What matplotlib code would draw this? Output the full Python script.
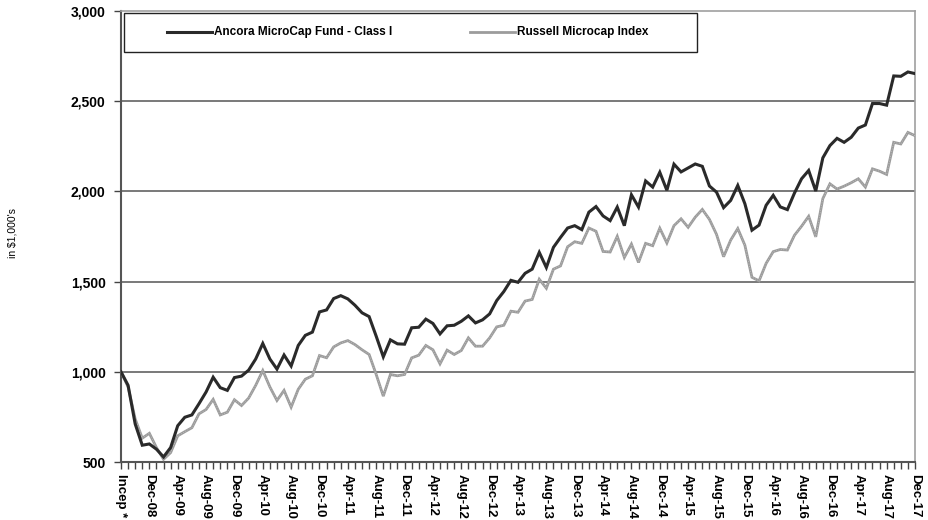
import matplotlib
matplotlib.use("Agg")
import matplotlib.pyplot as plt
from matplotlib.lines import Line2D
from matplotlib.patches import Rectangle
from matplotlib.ticker import FuncFormatter, MultipleLocator

plt.rcParams['font.family'] = ['Liberation Sans', 'DejaVu Sans']

fund_name = "Ancora MicroCap Fund - Class I"
index_name = "Russell Microcap Index"

fund = [1000, 925, 711, 593, 600, 571, 528, 580, 701, 748,
        761, 823, 888, 970, 912, 897, 968, 976, 1009, 1071,
        1157, 1071, 1015, 1093, 1032, 1146, 1202, 1220, 1332, 1343,
        1406, 1422, 1404, 1369, 1327, 1306, 1197, 1083, 1177, 1155,
        1153, 1244, 1247, 1292, 1268, 1210, 1255, 1258, 1280, 1310,
        1271, 1288, 1321, 1395, 1445, 1507, 1496, 1546, 1569, 1662,
        1578, 1690, 1745, 1797, 1810, 1788, 1885, 1916, 1864, 1838,
        1913, 1810, 1981, 1913, 2058, 2024, 2106, 2006, 2151, 2108,
        2130, 2152, 2139, 2030, 1996, 1910, 1950, 2033, 1932, 1785,
        1813, 1923, 1978, 1914, 1899, 1991, 2070, 2116, 2002, 2186,
        2254, 2294, 2272, 2300, 2351, 2368, 2487, 2487, 2478, 2640,
        2638, 2662, 2653]

russell = [1000, 916, 739, 632, 659, 580, 515, 552, 645, 668,
           690, 767, 791, 847, 761, 776, 845, 813, 854, 925,
           1007, 916, 841, 897, 804, 903, 959, 978, 1090, 1078,
           1138, 1160, 1173, 1151, 1122, 1096, 985, 865, 985, 978,
           985, 1077, 1092, 1146, 1122, 1044, 1120, 1096, 1118, 1188,
           1142, 1142, 1188, 1249, 1258, 1336, 1330, 1392, 1401, 1513,
           1463, 1569, 1587, 1693, 1721, 1712, 1797, 1779, 1667, 1664,
           1751, 1634, 1708, 1606, 1712, 1699, 1796, 1714, 1810, 1848,
           1801, 1857, 1900, 1845, 1762, 1638, 1730, 1794, 1702, 1524,
           1504, 1601, 1666, 1678, 1675, 1757, 1807, 1862, 1748, 1960,
           2042, 2013, 2029, 2048, 2070, 2024, 2125, 2112, 2094, 2272,
           2263, 2327, 2309]

tick_labels = ["Incep *", "Dec-08", "Apr-09", "Aug-09", "Dec-09", "Apr-10", "Aug-10",
               "Dec-10", "Apr-11", "Aug-11", "Dec-11", "Apr-12", "Aug-12", "Dec-12",
               "Apr-13", "Aug-13", "Dec-13", "Apr-14", "Aug-14", "Dec-14", "Apr-15",
               "Aug-15", "Dec-15", "Apr-16", "Aug-16", "Dec-16", "Apr-17", "Aug-17",
               "Dec-17"]
label_step = 4
y_ticks = [500, 1000, 1500, 2000, 2500, 3000]

W, H = 929, 520
fig = plt.figure(figsize=(W / 100, H / 100), dpi=100)
ax = fig.add_axes([121 / W, 1 - 462 / H, (915 - 121) / W, (462 - 11) / H])

x = list(range(len(fund)))
fund_color = '#2a2a2a'
idx_color = '#9c9c9c'
ax.plot(x, russell, color=idx_color, lw=2.0, zorder=3, solid_joinstyle='miter')
ax.plot(x, russell, color='#c4c4c4', lw=0.6, ls=(0, (1, 2)), zorder=3)
ax.plot(x, fund, color=fund_color, lw=2.2, zorder=4, solid_joinstyle='miter')

ax.set_xlim(0, len(fund) - 1)
ax.set_ylim(y_ticks[0], y_ticks[-1])
ax.set_yticks(y_ticks)
ax.yaxis.set_major_formatter(FuncFormatter(lambda v, p: f"{int(v):,}"))
for g in y_ticks[1:-1]:
    ax.axhline(g, color='#555555', lw=1.1, zorder=1)

ax.set_xticks(range(0, len(fund), label_step))
ax.set_xticklabels(tick_labels, rotation=270, fontsize=9.5, fontweight='bold',
                   va='top', ha='center')
ax.xaxis.set_minor_locator(MultipleLocator(1))
ax.tick_params(axis='x', which='both', direction='out', length=5, width=1,
               color='#444444', pad=4)
ax.tick_params(axis='y', which='major', direction='out', length=5, width=1,
               color='#444444', pad=6, labelsize=10)
for lab in ax.get_yticklabels():
    lab.set_fontweight('bold')

for side in ['left', 'bottom']:
    ax.spines[side].set_color('#555555')
    ax.spines[side].set_linewidth(1.5)
for side in ['top', 'right']:
    ax.spines[side].set_color('#a0a0a0')
    ax.spines[side].set_linewidth(1.2)

# legend box
fig.patches.append(Rectangle((124 / W, 1 - 52 / H), (697 - 124) / W, (52 - 13) / H,
                             transform=fig.transFigure, facecolor='white',
                             edgecolor='#222222', lw=1.0, zorder=5))
ly = 1 - 32 / H
fig.lines.append(Line2D([167 / W, 212 / W], [ly, ly], transform=fig.transFigure,
                        color=fund_color, lw=2.2, zorder=6))
fig.text(214 / W, ly, fund_name, fontsize=8.5, fontweight='bold', va='center',
         ha='left', zorder=6)
fig.lines.append(Line2D([470 / W, 515 / W], [ly, ly], transform=fig.transFigure,
                        color=idx_color, lw=2.0, zorder=6))
fig.text(517 / W, ly, index_name, fontsize=8.5, fontweight='bold', va='center',
         ha='left', zorder=6)

fig.text(13 / W, 1 - 233 / H, "in $1,000's", rotation=90, fontsize=7.5,
         va='center', ha='center')

fig.savefig("out.png", dpi=100)
